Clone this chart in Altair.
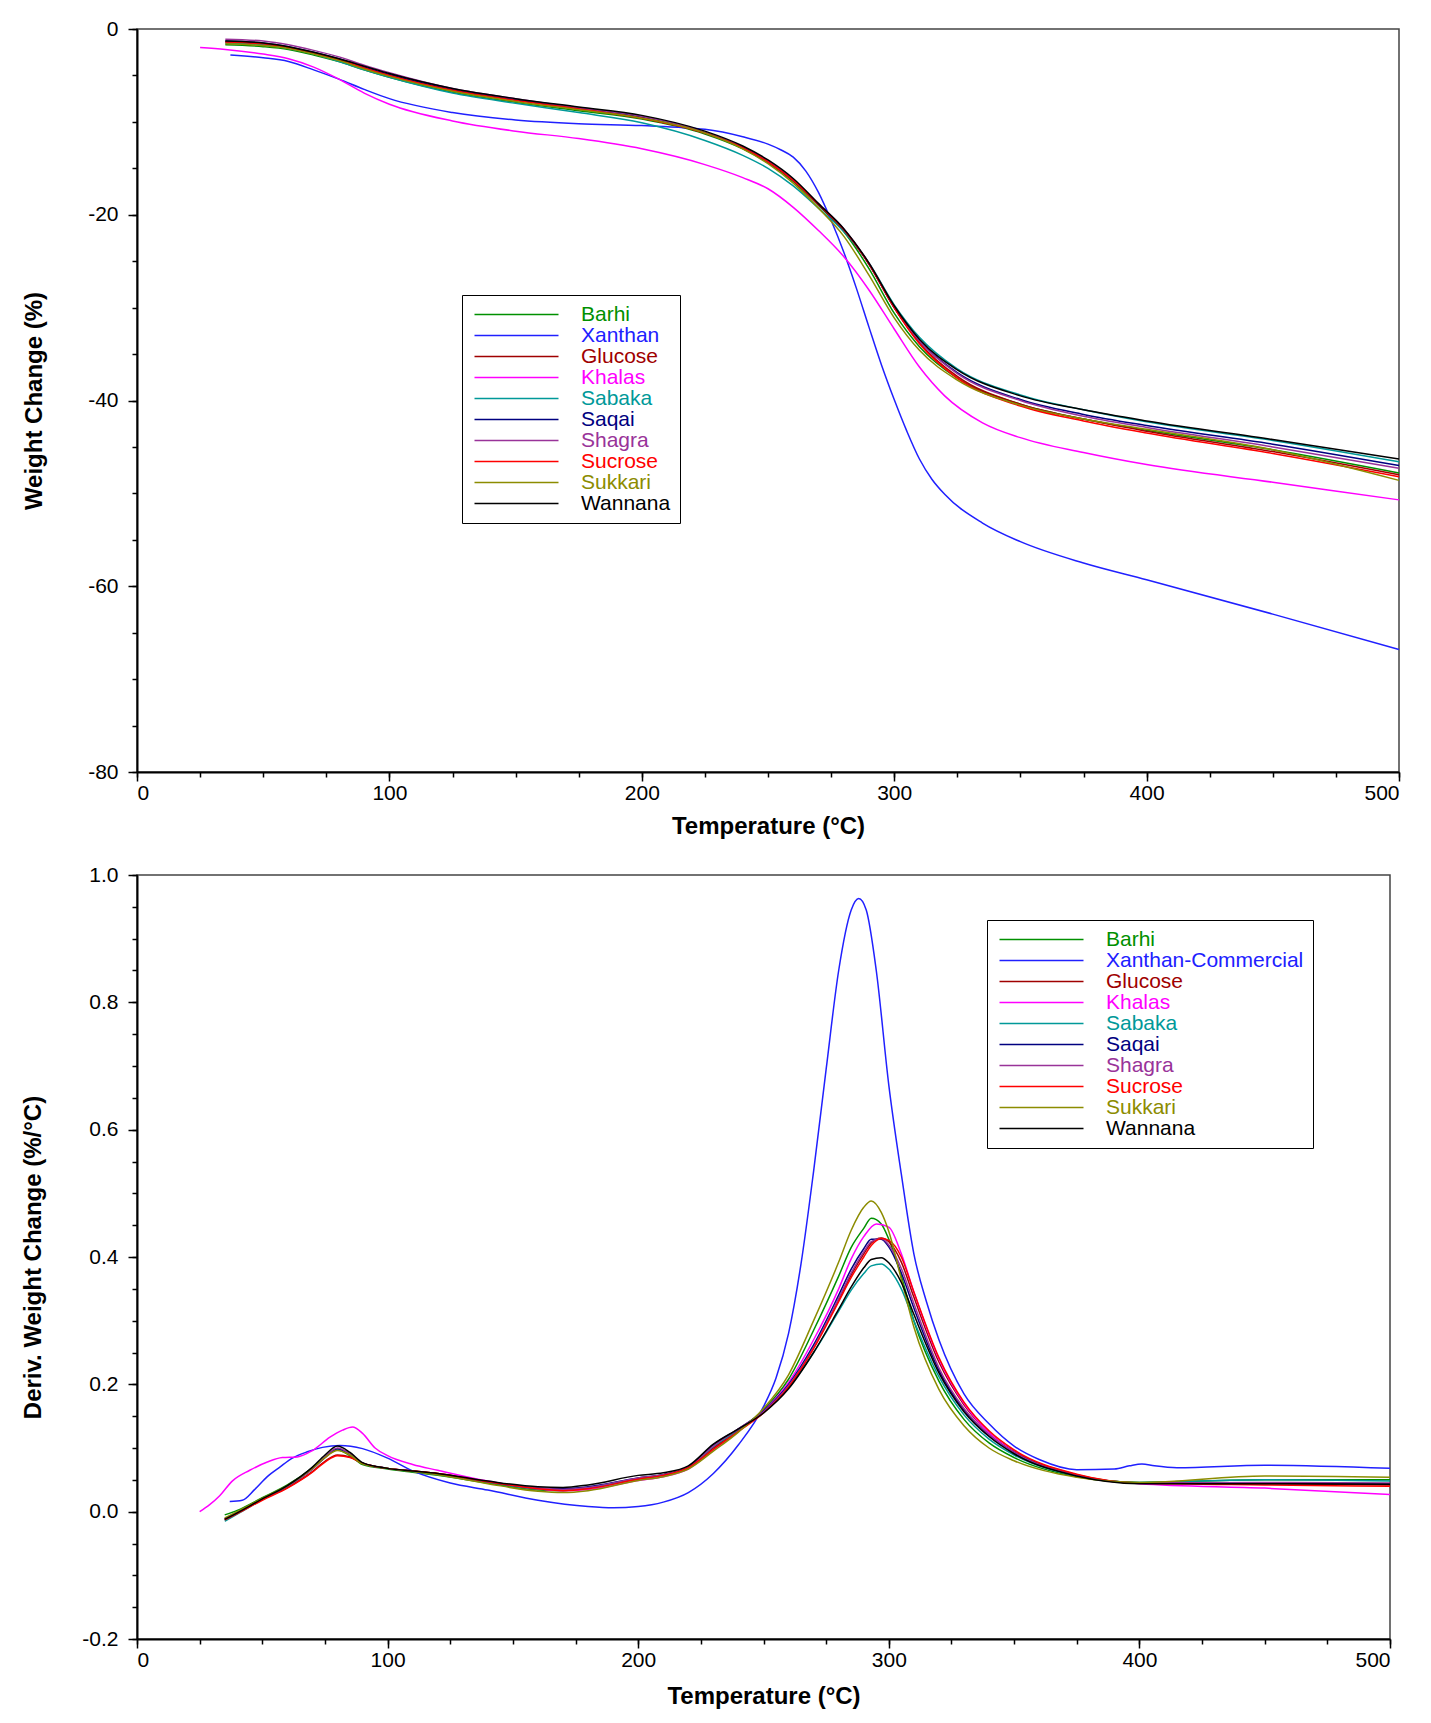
import altair as alt
import pandas as pd

FONT = "Liberation Sans"

TG_SERIES = ["Barhi", "Xanthan", "Glucose", "Khalas", "Sabaka", "Saqai",
             "Shagra", "Sucrose", "Sukkari", "Wannana"]
DTG_SERIES = ["Barhi", "Xanthan-Commercial", "Glucose", "Khalas", "Sabaka", "Saqai",
              "Shagra", "Sucrose", "Sukkari", "Wannana"]
COLORS = ["#009000", "#2020ff", "#a00000", "#ff00ff", "#009999", "#000080",
          "#993399", "#ff0000", "#8c8c00", "#000000"]

# ---------------- Top panel: TG (Weight Change %) ----------------
T_TG = [35, 50, 60, 70, 80, 90, 100, 125, 150, 175, 200, 225, 240, 250, 260,
        270, 280, 290, 300, 310, 325, 350, 375, 400, 450, 500]
TG_BARHI = [-1.7, -1.9, -2.2, -2.8, -3.5, -4.4, -5.2, -6.8, -7.9, -8.8, -9.7, -11.3, -12.9, -14.4, -16.4,
            -19.0, -21.8, -25.8, -30.6, -34.2, -37.6, -40.4, -42.0, -43.2, -45.3, -47.8]
TG_GLUCOSE = [-1.4, -1.6, -2.0, -2.6, -3.3, -4.2, -5.0, -6.6, -7.6, -8.6, -9.6, -11.2, -12.8, -14.3, -16.3,
              -18.9, -21.6, -25.3, -30.0, -33.8, -37.4, -40.4, -42.0, -43.3, -45.5, -48.0]
TG_SABAKA = [-1.5, -1.7, -2.1, -2.7, -3.5, -4.4, -5.2, -6.9, -8.0, -9.0, -10.1, -12.0, -13.6, -15.0, -16.9,
             -19.3, -21.8, -25.2, -29.7, -33.2, -36.6, -39.4, -41.0, -42.3, -44.3, -46.6]
TG_SAQAI = [-1.3, -1.5, -1.9, -2.5, -3.2, -4.1, -4.9, -6.5, -7.6, -8.5, -9.5, -11.2, -12.8, -14.3, -16.3,
            -18.9, -21.6, -25.3, -30.0, -33.6, -37.0, -39.9, -41.5, -42.7, -44.7, -47.0]
TG_SHAGRA = [-1.1, -1.3, -1.7, -2.3, -3.0, -3.9, -4.7, -6.4, -7.5, -8.5, -9.4, -11.1, -12.7, -14.2, -16.2,
             -18.8, -21.5, -25.2, -29.9, -33.6, -37.1, -40.0, -41.7, -42.9, -45.0, -47.3]
TG_SUCROSE = [-1.4, -1.6, -2.0, -2.6, -3.3, -4.2, -5.0, -6.6, -7.7, -8.6, -9.6, -11.2, -12.8, -14.3, -16.3,
              -18.9, -21.6, -25.3, -30.0, -33.9, -37.6, -40.6, -42.2, -43.5, -45.7, -48.2]
TG_SUKKARI = [-1.6, -1.8, -2.1, -2.7, -3.4, -4.3, -5.1, -6.7, -7.8, -8.7, -9.6, -11.2, -12.9, -14.5, -16.6,
              -19.3, -22.3, -26.5, -31.1, -34.6, -37.8, -40.5, -42.0, -43.1, -45.3, -48.6]
TG_WANNANA = [-1.3, -1.5, -1.9, -2.5, -3.2, -4.0, -4.8, -6.4, -7.5, -8.4, -9.3, -11.0, -12.6, -14.1, -16.1,
              -18.8, -21.5, -25.2, -29.8, -33.4, -36.7, -39.5, -41.0, -42.2, -44.2, -46.3]

T_TG_KHALAS = [25, 35, 50, 60, 70, 80, 90, 100, 125, 150, 175, 200, 225, 240, 250, 260, 270, 280,
               290, 300, 310, 320, 335, 350, 375, 400, 450, 500]
TG_KHALAS = [-2.0, -2.2, -2.7, -3.2, -4.1, -5.4, -6.9, -8.1, -9.9, -11.0, -11.8, -12.9, -14.6, -16.0,
             -17.2, -19.2, -21.7, -24.5, -28.1, -32.3, -36.4, -39.5, -42.4, -44.0, -45.6, -46.9, -48.8, -50.7]

T_TG_XANTHAN = [37, 50, 60, 70, 80, 90, 100, 125, 150, 175, 200, 225, 240, 250, 255, 260, 265, 270,
                275, 280, 285, 290, 295, 300, 305, 310, 315, 320, 335, 350, 375, 400, 450, 500]
TG_XANTHAN = [-2.8, -3.1, -3.5, -4.4, -5.4, -6.5, -7.5, -9.0, -9.8, -10.2, -10.4, -10.8, -11.6, -12.4,
              -13.0, -13.8, -15.3, -17.6, -20.6, -24.0, -27.9, -32.1, -36.2, -39.9, -43.3, -46.3, -48.5,
              -50.1, -53.2, -55.2, -57.5, -59.3, -63.0, -66.8]

# ---------------- Bottom panel: DTG (Deriv. Weight Change %/°C) ----------------
T_D = [35, 40, 50, 60, 70, 75, 80, 85, 90, 100, 110, 120, 140, 160, 170, 180, 200, 210, 220, 230,
       240, 250, 260, 270, 280, 285, 290, 293, 297, 300, 305, 310, 320, 330, 340, 350, 375, 400, 450, 500]
D_BARHI = [-0.005, 0.002, 0.022, 0.042, 0.069, 0.086, 0.097, 0.088, 0.074, 0.067, 0.062, 0.057, 0.045,
           0.034, 0.033, 0.037, 0.051, 0.057, 0.069, 0.100, 0.128, 0.160, 0.208, 0.285, 0.370, 0.415,
           0.445, 0.461, 0.452, 0.428, 0.370, 0.300, 0.205, 0.145, 0.108, 0.085, 0.055, 0.046, 0.050, 0.050]
D_GLUCOSE = [-0.012, -0.002, 0.019, 0.038, 0.063, 0.079, 0.089, 0.086, 0.076, 0.068, 0.064, 0.060, 0.047,
             0.036, 0.034, 0.037, 0.052, 0.058, 0.070, 0.100, 0.128, 0.156, 0.197, 0.258, 0.333, 0.372,
             0.405, 0.422, 0.430, 0.424, 0.392, 0.337, 0.235, 0.168, 0.124, 0.095, 0.058, 0.045, 0.044, 0.042]
D_SABAKA = [-0.015, -0.004, 0.019, 0.040, 0.068, 0.086, 0.098, 0.090, 0.076, 0.068, 0.063, 0.058, 0.046,
            0.036, 0.035, 0.038, 0.052, 0.057, 0.069, 0.102, 0.128, 0.155, 0.195, 0.250, 0.315, 0.348,
            0.374, 0.386, 0.389, 0.381, 0.350, 0.300, 0.212, 0.152, 0.114, 0.089, 0.056, 0.046, 0.050, 0.048]
D_SAQAI = [-0.012, -0.002, 0.020, 0.040, 0.067, 0.085, 0.099, 0.090, 0.076, 0.068, 0.064, 0.059, 0.047,
           0.037, 0.036, 0.039, 0.053, 0.058, 0.070, 0.105, 0.130, 0.158, 0.200, 0.262, 0.340, 0.381,
           0.413, 0.428, 0.428, 0.416, 0.375, 0.320, 0.222, 0.160, 0.120, 0.093, 0.057, 0.045, 0.045, 0.044]
D_SHAGRA = [-0.011, -0.001, 0.020, 0.040, 0.067, 0.086, 0.100, 0.091, 0.076, 0.068, 0.064, 0.059, 0.047,
            0.037, 0.035, 0.038, 0.053, 0.058, 0.070, 0.103, 0.130, 0.157, 0.198, 0.258, 0.335, 0.375,
            0.408, 0.424, 0.429, 0.419, 0.382, 0.327, 0.226, 0.162, 0.121, 0.093, 0.057, 0.045, 0.046, 0.045]
D_SUCROSE = [-0.013, -0.003, 0.018, 0.037, 0.062, 0.078, 0.088, 0.085, 0.076, 0.068, 0.064, 0.060, 0.047,
             0.036, 0.033, 0.036, 0.051, 0.057, 0.069, 0.098, 0.126, 0.155, 0.196, 0.256, 0.330, 0.368,
             0.400, 0.418, 0.429, 0.426, 0.400, 0.345, 0.242, 0.172, 0.127, 0.097, 0.059, 0.045, 0.042, 0.040]
D_SUKKARI = [-0.010, 0.000, 0.021, 0.041, 0.068, 0.085, 0.096, 0.089, 0.075, 0.068, 0.063, 0.058, 0.044,
             0.032, 0.030, 0.033, 0.049, 0.055, 0.067, 0.095, 0.125, 0.162, 0.215, 0.300, 0.392, 0.442,
             0.478, 0.488, 0.470, 0.440, 0.365, 0.290, 0.192, 0.135, 0.100, 0.080, 0.054, 0.046, 0.056, 0.054]
D_WANNANA = [-0.012, -0.002, 0.020, 0.041, 0.070, 0.089, 0.103, 0.093, 0.077, 0.068, 0.064, 0.060, 0.048,
             0.039, 0.038, 0.042, 0.057, 0.061, 0.072, 0.106, 0.130, 0.155, 0.193, 0.250, 0.318, 0.353,
             0.383, 0.396, 0.399, 0.391, 0.360, 0.310, 0.218, 0.157, 0.118, 0.091, 0.056, 0.044, 0.044, 0.043]

T_D_KHALAS = [25, 29, 33, 38, 45, 52, 58, 64, 70, 77, 82, 86, 90, 95, 100, 110, 120, 140, 160, 170, 180,
              200, 210, 220, 230, 240, 250, 260, 270, 280, 285, 290, 295, 300, 305, 310, 320, 330, 340,
              350, 375, 400, 450, 500]
D_KHALAS = [0.000, 0.011, 0.025, 0.048, 0.065, 0.078, 0.085, 0.086, 0.096, 0.117, 0.128, 0.133, 0.123,
            0.100, 0.088, 0.074, 0.065, 0.048, 0.036, 0.033, 0.035, 0.049, 0.055, 0.067, 0.097, 0.126,
            0.158, 0.203, 0.270, 0.350, 0.397, 0.432, 0.452, 0.447, 0.405, 0.345, 0.240, 0.170, 0.124,
            0.094, 0.057, 0.044, 0.037, 0.027]

T_D_XANTHAN = [37, 42, 47, 52, 57, 62, 68, 74, 81, 90, 100, 110, 125, 140, 160, 180, 190, 200, 210, 220,
               230, 240, 250, 255, 260, 265, 270, 275, 280, 285, 288, 291, 295, 300, 305, 310, 315, 320,
               330, 340, 350, 360, 375, 390, 396, 401, 406, 415, 450, 500]
D_XANTHAN = [0.016, 0.018, 0.035, 0.055, 0.070, 0.084, 0.094, 0.101, 0.104, 0.099, 0.084, 0.064, 0.045,
             0.034, 0.018, 0.008, 0.006, 0.008, 0.015, 0.030, 0.060, 0.105, 0.165, 0.210, 0.280, 0.390,
             0.535, 0.695, 0.850, 0.945, 0.963, 0.945, 0.850, 0.670, 0.530, 0.405, 0.330, 0.270, 0.185,
             0.138, 0.103, 0.082, 0.066, 0.067, 0.072, 0.075, 0.072, 0.069, 0.073, 0.068]

# tick positions
X_MAJOR = [0, 100, 200, 300, 400, 500]
X_MINOR = [25 * i for i in range(21)]
TG_Y_MAJOR = [0, -20, -40, -60, -80]
TG_Y_MINOR = [-5 * i for i in range(17)]
DTG_Y_MAJOR = [-0.2, 0.0, 0.2, 0.4, 0.6, 0.8, 1.0]
DTG_Y_MINOR = [round(-0.2 + 0.05 * i, 2) for i in range(25)]


def frame(groups):
    rows = []
    for name, ts, vs in groups:
        for t, v in zip(ts, vs):
            rows.append({"series": name, "T": t, "v": v})
    return pd.DataFrame(rows)


tg_df = frame([
    ("Barhi", T_TG, TG_BARHI), ("Xanthan", T_TG_XANTHAN, TG_XANTHAN),
    ("Glucose", T_TG, TG_GLUCOSE), ("Khalas", T_TG_KHALAS, TG_KHALAS),
    ("Sabaka", T_TG, TG_SABAKA), ("Saqai", T_TG, TG_SAQAI),
    ("Shagra", T_TG, TG_SHAGRA), ("Sucrose", T_TG, TG_SUCROSE),
    ("Sukkari", T_TG, TG_SUKKARI), ("Wannana", T_TG, TG_WANNANA),
])
dtg_df = frame([
    ("Barhi", T_D, D_BARHI), ("Xanthan-Commercial", T_D_XANTHAN, D_XANTHAN),
    ("Glucose", T_D, D_GLUCOSE), ("Khalas", T_D_KHALAS, D_KHALAS),
    ("Sabaka", T_D, D_SABAKA), ("Saqai", T_D, D_SAQAI),
    ("Shagra", T_D, D_SHAGRA), ("Sucrose", T_D, D_SUCROSE),
    ("Sukkari", T_D, D_SUKKARI), ("Wannana", T_D, D_WANNANA),
])


def label_color_expr(domain):
    cols = ",".join("'%s'" % c for c in COLORS)
    names = ",".join("'%s'" % n for n in domain)
    return {"expr": "[%s][indexof([%s], datum.value)]" % (cols, names)}


def panel(df, domain, ydomain, ymajor, yminor, ytitle, yfmt, w, h, lx, ly, ytitle_pad, xtitle_pad):
    xs = alt.Scale(domain=[0, 500], nice=False, zero=False)
    ys = alt.Scale(domain=ydomain, nice=False, zero=False)
    lines = alt.Chart(df).mark_line(strokeWidth=1.5, interpolate="monotone").encode(
        x=alt.X("T:Q", scale=xs,
                axis=alt.Axis(orient="bottom", values=X_MAJOR, title="Temperature (°C)",
                              tickSize=9, labelPadding=1, titlePadding=xtitle_pad, format="d")),
        y=alt.Y("v:Q", scale=ys,
                axis=alt.Axis(orient="left", values=ymajor, title=ytitle,
                              labelExpr="replace(format(datum.value, '%s'), '\u2212', '-')" % yfmt,
                              tickSize=9, labelPadding=10, titlePadding=ytitle_pad)),
        color=alt.Color("series:N", sort=domain,
                        scale=alt.Scale(domain=domain, range=COLORS),
                        legend=alt.Legend(title=None, orient="none", legendX=lx, legendY=ly,
                                          symbolType="M-6,0H6", symbolSize=196,
                                          symbolStrokeWidth=1.5, symbolOffset=35,
                                          labelFont=FONT, labelFontSize=21, labelOffset=54,
                                          labelLimit=400,
                                          labelColor=label_color_expr(domain),
                                          padding=9, rowPadding=-1, strokeColor="black",
                                          fillColor="white")),
    )
    minor = alt.Chart(df).mark_line(opacity=0).encode(
        x=alt.X("T:Q", scale=xs,
                axis=alt.Axis(orient="bottom", values=X_MINOR, labels=False, title=None,
                              domain=False, tickSize=5)),
        y=alt.Y("v:Q", scale=ys,
                axis=alt.Axis(orient="left", values=yminor, labels=False, title=None,
                              domain=False, tickSize=5)),
        detail="series:N",
    )
    return alt.layer(lines, minor).resolve_axis(x="independent", y="independent").properties(
        width=w, height=h)


top = panel(tg_df, TG_SERIES, [-80, 0], TG_Y_MAJOR, TG_Y_MINOR, "Weight Change (%)", "d",
            1262, 743, 325, 266, 41, 11)
bottom = panel(dtg_df, DTG_SERIES, [-0.2, 1.0], DTG_Y_MAJOR, DTG_Y_MINOR,
               "Deriv. Weight Change (%/°C)", ".1f", 1253, 764, 850, 45, 36, 14)

chart = alt.vconcat(top, bottom, spacing=24).resolve_scale(color="independent").configure_view(
    stroke="#444444", strokeWidth=1.5
).configure_axis(
    labelFont=FONT, labelFontSize=21, labelColor="black",
    titleFont=FONT, titleFontSize=24, titleFontWeight="bold", titleColor="black",
    domainColor="black", domainWidth=2, tickColor="black", tickWidth=1.5, grid=False
).properties(
    padding={"left": 13, "top": 9, "right": 10, "bottom": 10}
)

chart.save("out.html", embed_options={"renderer": "svg", "actions": False})
